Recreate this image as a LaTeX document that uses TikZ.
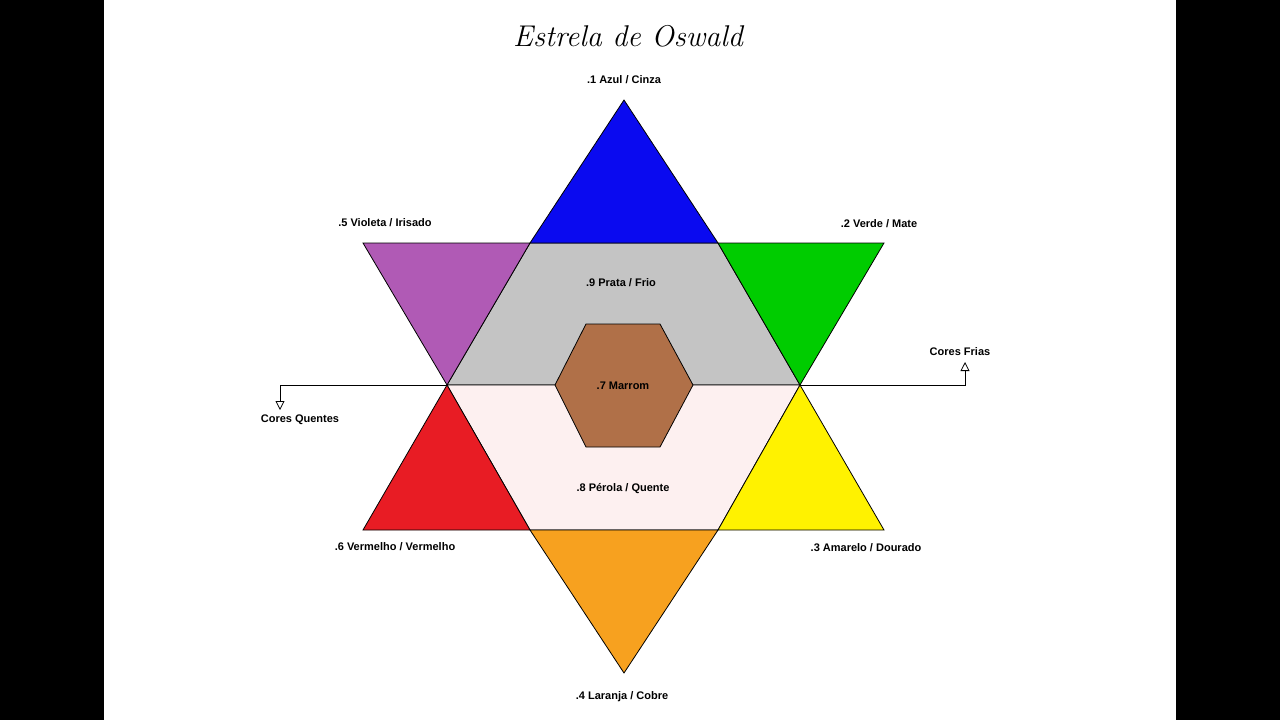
\documentclass[tikz,border=0pt]{standalone}
\usepackage{fontspec}
\setsansfont{Liberation Sans}
\usetikzlibrary{arrows.meta}
\definecolor{cblue}{HTML}{0A0AF0}
\definecolor{cgreen}{HTML}{00CC00}
\definecolor{cviolet}{HTML}{B05AB5}
\definecolor{cred}{HTML}{E81C24}
\definecolor{cyellow}{HTML}{FFF200}
\definecolor{corange}{HTML}{F7A11F}
\definecolor{cgray}{HTML}{C4C4C4}
\definecolor{cpearl}{HTML}{FDF0F0}
\definecolor{cbrown}{HTML}{B07048}
\begin{document}
\begin{tikzpicture}[x=1pt,y=-1pt,
  region/.style={draw=black,line width=0.8pt,line join=miter},
  lbl/.style={font=\sffamily\bfseries\fontsize{11}{13}\selectfont,inner sep=0pt}]
\useasboundingbox (0,0) rectangle (1280,720);
\fill[black] (0,0) rectangle (104,720);
\fill[black] (1176,0) rectangle (1280,720);
\fill[white] (104,0) rectangle (1176,720);
\node[font=\itshape\fontsize{30}{34}\selectfont] (title) at (628,36) {Estrela de Oswald};
% regions
\filldraw[region,fill=cgray] (530,243)--(718,243)--(800,385)--(447,385)--cycle;
\filldraw[region,fill=cpearl] (447,385)--(800,385)--(718,530)--(530,530)--cycle;
\filldraw[region,fill=cblue] (624,100)--(718,243)--(530,243)--cycle;
\filldraw[region,fill=cgreen] (718,243)--(884,243)--(800,385)--cycle;
\filldraw[region,fill=cviolet] (363,243)--(530,243)--(447,385)--cycle;
\filldraw[region,fill=cred] (447,385)--(530,530)--(363,530)--cycle;
\filldraw[region,fill=cyellow] (800,385)--(884,530)--(718,530)--cycle;
\filldraw[region,fill=corange] (530,530)--(718,530)--(624,673)--cycle;
\filldraw[region,fill=cbrown] (586,324)--(660,324)--(693,385)--(660,447)--(586,447)--(555,385)--cycle;
% connectors
\coordinate (lq) at (447,385);
\coordinate (rf) at (800,385);
\coordinate (cq) at (280,410);
\coordinate (cf) at (965,362);
\draw[line width=0.8pt,-{Triangle[open,length=9pt,width=9pt]}] (lq)--(280,385)--(cq);
\draw[line width=0.8pt,-{Triangle[open,length=9pt,width=9pt]}] (rf)--(965,385)--(cf);
% labels
\node[lbl] (l1) at (624,80) {.1 Azul / Cinza};
\node[lbl] (l2) at (879,224) {.2 Verde / Mate};
\node[lbl] (l3) at (866,548) {.3 Amarelo / Dourado};
\node[lbl] (l4) at (622,697) {.4 Laranja / Cobre};
\node[lbl] (l5) at (385,223) {.5 Violeta / Irisado};
\node[lbl] (l6) at (395,547) {.6 Vermelho / Vermelho};
\node[lbl] (l7) at (623,386) {.7 Marrom};
\node[lbl] (l8) at (623,489) {.8 Pérola / Quente};
\node[lbl] (l9) at (621,283) {.9 Prata / Frio};
\node[lbl] (lcq) at (300,420) {Cores Quentes};
\node[lbl] (lcf) at (960,352) {Cores Frias};
\end{tikzpicture}
\end{document}
